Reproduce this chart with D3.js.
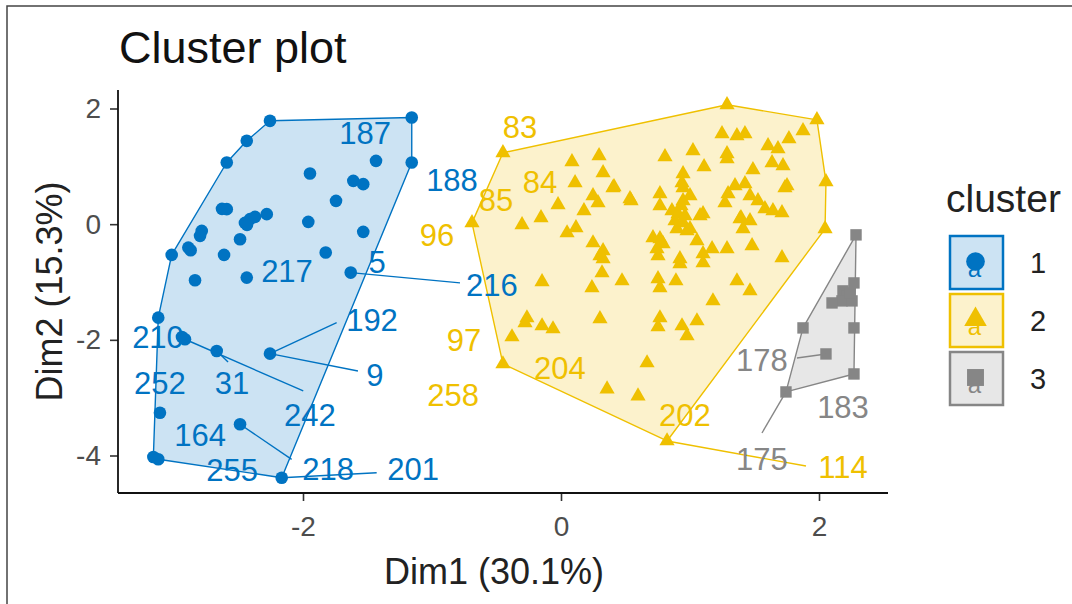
<!DOCTYPE html>
<html><head><meta charset="utf-8">
<script src="https://cdn.jsdelivr.net/npm/d3@7"></script>
<style>body{margin:0;background:#fff}</style>
</head><body><svg id="c" width="1072" height="604"></svg>
<script>
// ---------- data ----------
const clusters = ["1", "2", "3"];
const colors = ["#0073C2", "#EFC000", "#868686"];
const shapes = ["circle", "triangle", "square"];

const c1X = [-2.256,-1.157,-2.436,-2.591,-1.434,-1.157,-1.946,-1.610,-1.533,-1.744,-2.591,-2.628,-2.411,-2.450,-2.372,-2.434,-2.281,-1.959,-2.785,-2.798,-1.533,-2.488,-2.889,-2.871,-3.018,-2.612,-1.824,-2.837,-2.436,-1.630,-3.122,-2.915,-2.938,-2.669,-2.256,-3.109,-2.488,-3.160,-3.122,-2.165];
const c1Y = [1.787,1.844,1.441,1.066,1.095,1.066,0.875,0.749,0.692,0.403,0.260,0.265,0.087,0.022,0.126,-0.012,0.173,0.040,-0.116,-0.202,-0.133,-0.260,-0.405,-0.450,-0.531,-0.531,-0.491,-0.969,-0.924,-0.837,-1.616,-1.990,-1.950,-2.192,-2.239,-3.260,-3.460,-4.026,-4.066,-4.384];

const c2X = [-0.450,1.287,1.984,-0.690,-0.450,0.822,2.054,2.047,0.085,0.295,0.326,0.109,0.411,0.248,0.287,0.543,-0.023,0.178,-0.155,-0.302,0.116,0.047,0.248,0.326,0.326,1.876,1.767,1.248,1.364,1.426,1.605,1.682,1.023,0.806,1.287,1.287,1.636,1.721,1.109,1.488,0.946,1.752,0.938,1.349,1.426,1.295,0.946,1.000,0.767,1.465,1.527,1.271,0.767,1.581,1.643,1.713,0.907,0.946,1.101,1.388,1.465,1.411,0.899,0.977,0.767,1.054,1.481,1.287,1.171,1.101,1.713,0.922,0.744,0.535,0.403,0.930,0.961,0.884,0.713,0.791,0.302,0.922,-0.147,0.318,0.473,0.240,0.752,0.767,0.891,1.101,1.178,1.364,1.465,-0.264,-0.279,-0.147,-0.062,-0.380,0.302,0.767,0.752,0.938,1.054,0.977,0.667,0.357,0.597,0.752,0.946,1.000,0.860,1.395,1.078,1.736];
const c2Y = [1.234,2.064,1.804,0.022,-2.417,-3.749,0.732,-0.081,1.078,1.182,0.888,0.715,0.645,0.490,0.369,0.403,0.334,0.230,0.109,-0.012,-0.064,-0.151,-0.324,-0.462,-0.600,1.614,1.476,1.562,1.528,1.562,1.355,1.303,1.268,1.164,1.216,1.130,1.061,1.009,0.991,0.939,0.870,0.663,0.715,0.663,0.697,0.524,0.628,0.490,0.524,0.490,0.403,0.369,0.317,0.265,0.230,0.196,0.178,0.022,0.178,0.092,0.057,-0.081,-0.081,-0.116,-0.254,-0.289,-0.375,-0.427,-0.427,-0.514,-0.583,-0.600,-0.427,0.438,0.628,0.317,0.144,0.057,-0.237,-0.341,-0.548,-0.687,-0.998,-0.843,-0.981,-1.102,-0.946,-1.102,-0.981,-0.670,-1.327,-0.981,-1.154,-1.621,-1.708,-1.760,-1.811,-1.950,-1.638,-1.621,-1.777,-1.760,-1.673,-1.933,-2.400,-2.850,-2.971,-0.548,0.403,-0.081,0.230,0.109,0.144,0.628];

const c3X = [2.287,2.271,2.186,2.217,2.178,2.101,2.256,2.240,1.876,2.271,2.054,2.271,1.744];
const c3Y = [-0.185,-1.016,-1.154,-1.240,-1.327,-1.362,-1.327,-1.189,-1.794,-1.794,-2.244,-2.590,-2.901];

const labelText    = ["187","188","217","5","216","192","210","9","252","31","242","164","255","218","201","83","84","85","96","97","258","204","202","114","178","183","175"];
const labelCluster = [0,0,0,0,0,0,0,0,0,0,0,0,0,0,0,1,1,1,1,1,1,1,1,1,2,2,2];
const labelX = [-1.519,-0.845,-2.124,-1.426,-0.535,-1.465,-3.124,-1.442,-3.109,-2.550,-1.946,-2.798,-2.550,-1.806,-1.147,-0.318,-0.163,-0.504,-0.961,-0.752,-0.837,-0.008,0.961,2.186,1.558,2.186,1.558];
const labelY = [1.562,0.749,-0.825,-0.670,-1.067,-1.673,-1.967,-2.625,-2.763,-2.763,-3.317,-3.660,-4.265,-4.234,-4.234,1.666,0.715,0.403,-0.202,-2.019,-2.971,-2.503,-3.317,-4.199,-2.365,-3.178,-4.061];

const segCluster = [0,0,0,0,0,0,0,1,2,2];
const segX1 = [-1.630,-2.256,-2.256,-2.669,-2.915,-2.488,-2.165,0.822,2.054,1.744];
const segY1 = [-0.837,-2.239,-2.239,-2.192,-1.990,-3.460,-4.384,-3.749,-2.244,-2.901];
const segX2 = [-0.783,-1.739,-1.574,-2.581,-1.998,-2.088,-1.429,1.899,1.829,1.558];
const segY2 = [-1.016,-1.702,-2.538,-2.382,-2.884,-4.066,-4.298,-4.182,-2.313,-3.611];

const xTicks = [-2, 0, 2];
const yTicks = [-4, -2, 0, 2];
const titleText = "Cluster plot";
const xTitle = "Dim1 (30.1%)";
const yTitle = "Dim2 (15.3%)";
const legendTitle = "cluster";

// ---------- layout ----------
const FONT = "'Liberation Sans', Arial, sans-serif";
const panel = {l: 118, r: 888, t: 90, b: 493};
const x = d3.scaleLinear().domain([-2, 2]).range([303, 819]);
const y = d3.scaleLinear().domain([-4, 2]).range([455.5, 108.5]);

const svg = d3.select("#c");
svg.append("rect").attr("width", 1072).attr("height", 604).attr("fill", "#fff");
svg.append("rect").attr("x", 7).attr("y", 6).attr("width", 1100).attr("height", 640)
  .attr("fill", "none").attr("stroke", "#444").attr("stroke-width", 1.5);

const groups = [
  {X: c1X, Y: c1Y}, {X: c2X, Y: c2Y}, {X: c3X, Y: c3Y}
];
const symType = {circle: d3.symbolCircle, triangle: d3.symbolTriangle, square: d3.symbolSquare};
const symSize = {circle: 125, triangle: 100, square: 130};

// hulls
groups.forEach((g, i) => {
  const pts = g.X.map((v, j) => [x(v), y(g.Y[j])]);
  const hull = d3.polygonHull(pts);
  svg.append("path").attr("d", "M" + hull.join("L") + "Z")
    .attr("fill", colors[i]).attr("fill-opacity", 0.2)
    .attr("stroke", colors[i]).attr("stroke-width", 1.4).attr("stroke-linejoin", "round");
});

// points
groups.forEach((g, i) => {
  const sym = d3.symbol().type(symType[shapes[i]]).size(symSize[shapes[i]]);
  svg.append("g").selectAll("path").data(g.X.map((v, j) => [v, g.Y[j]])).join("path")
    .attr("d", sym).attr("transform", d => `translate(${x(d[0])},${y(d[1])})`)
    .attr("fill", colors[i]);
});

// label connector segments
svg.append("g").selectAll("line").data(segX1.map((v, i) => i)).join("line")
  .attr("x1", i => x(segX1[i])).attr("y1", i => y(segY1[i]))
  .attr("x2", i => x(segX2[i])).attr("y2", i => y(segY2[i]))
  .attr("stroke", i => colors[segCluster[i]]).attr("stroke-width", 1.4);

// labels
svg.append("g").selectAll("text").data(labelText.map((t, i) => i)).join("text")
  .attr("x", i => x(labelX[i])).attr("y", i => y(labelY[i]))
  .attr("text-anchor", "middle").attr("dominant-baseline", "central")
  .attr("font-family", FONT).attr("font-size", 31)
  .attr("fill", i => colors[labelCluster[i]])
  .text(i => labelText[i]);

// axes
const ax = svg.append("g").attr("transform", `translate(0,${panel.b})`)
  .call(d3.axisBottom(x).tickValues(xTicks).tickSize(8).tickPadding(15).tickFormat(d => String(d)));
const ay = svg.append("g").attr("transform", `translate(${panel.l},0)`)
  .call(d3.axisLeft(y).tickValues(yTicks).tickSize(8).tickPadding(9).tickFormat(d => String(d)));
[ax, ay].forEach(a => {
  a.select(".domain").remove();
  a.selectAll(".tick line").attr("stroke", "#333").attr("stroke-width", 1.6);
  a.selectAll(".tick text").attr("fill", "#4D4D4D").attr("font-family", FONT).attr("font-size", 28);
});
svg.append("line").attr("x1", panel.l).attr("x2", panel.r).attr("y1", panel.b).attr("y2", panel.b)
  .attr("stroke", "#111").attr("stroke-width", 1.8);
svg.append("line").attr("x1", panel.l).attr("x2", panel.l).attr("y1", panel.t).attr("y2", panel.b)
  .attr("stroke", "#111").attr("stroke-width", 1.8);

// titles
svg.append("text").attr("x", 119).attr("y", 63).attr("font-family", FONT).attr("font-size", 45)
  .attr("fill", "#111").text(titleText);
svg.append("text").attr("x", 494).attr("y", 584).attr("text-anchor", "middle")
  .attr("font-family", FONT).attr("font-size", 36).attr("fill", "#222").text(xTitle);
svg.append("text").attr("transform", `translate(62,${(panel.t + panel.b) / 2}) rotate(-90)`)
  .attr("text-anchor", "middle").attr("font-family", FONT).attr("font-size", 36).attr("fill", "#222").text(yTitle);

// legend
const lg = svg.append("g");
lg.append("text").attr("x", 946).attr("y", 212).attr("font-family", FONT).attr("font-size", 39)
  .attr("fill", "#222").text(legendTitle);
clusters.forEach((c, i) => {
  const top = 236 + i * 58, left = 950, s = 53;
  lg.append("rect").attr("x", left).attr("y", top).attr("width", s).attr("height", s)
    .attr("fill", colors[i]).attr("fill-opacity", 0.2).attr("stroke", colors[i]).attr("stroke-width", 2.5);
  lg.append("text").attr("x", left + s / 2 - 2).attr("y", top + s / 2 + 14).attr("text-anchor", "middle")
    .attr("font-family", FONT).attr("font-size", 24).attr("fill", colors[i]).text("a");
  lg.append("path").attr("d", d3.symbol().type(symType[shapes[i]]).size(symSize[shapes[i]] * 2.2)())
    .attr("transform", `translate(${left + s / 2 - 1},${top + s / 2 - 1})`).attr("fill", colors[i]);
  lg.append("text").attr("x", 1030).attr("y", top + s / 2).attr("dominant-baseline", "central")
    .attr("font-family", FONT).attr("font-size", 29).attr("fill", "#222").text(c);
});
</script></body></html>
